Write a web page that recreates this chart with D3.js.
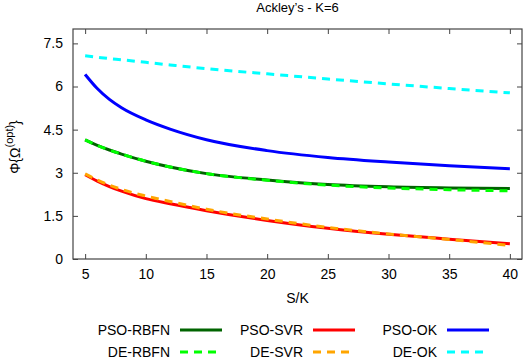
<!DOCTYPE html>
<html>
<head>
<meta charset="utf-8">
<script src="https://cdn.jsdelivr.net/npm/d3@7"></script>
<style>
  body { margin: 0; background: #fff; }
  svg text { font-family: "Liberation Sans", Arial, sans-serif; fill: #000; }
</style>
</head>
<body>
<div id="chart"></div>
<script>
// S/K sample points
const sk = [5, 6, 7, 8, 10, 12, 15, 20, 25, 30, 35, 40];

// values
const psoRbfn = [4.14, 3.95, 3.79, 3.65, 3.40, 3.20, 2.97, 2.75, 2.59, 2.51, 2.47, 2.45];
const deRbfn  = [4.14, 3.95, 3.79, 3.65, 3.40, 3.20, 2.97, 2.74, 2.57, 2.47, 2.41, 2.37];
const psoSvr  = [2.93, 2.71, 2.52, 2.36, 2.10, 1.92, 1.68, 1.34, 1.07, 0.86, 0.69, 0.53];
const deSvr   = [2.96, 2.75, 2.57, 2.42, 2.19, 2.00, 1.73, 1.39, 1.10, 0.87, 0.68, 0.47];
const psoOk   = [6.42, 5.93, 5.55, 5.26, 4.84, 4.52, 4.15, 3.77, 3.53, 3.37, 3.24, 3.14];
const deOk    = [7.07, 7.02, 6.97, 6.93, 6.84, 6.75, 6.62, 6.44, 6.26, 6.09, 5.93, 5.78];

const xTicks = [5, 10, 15, 20, 25, 30, 35, 40];
const yTicks = [0, 1.5, 3, 4.5, 6, 7.5];

// drawing order: solid PSO lines under the dashed DE lines
const series = [
  { name: "PSO-RBFN", values: psoRbfn, color: "#006400", dash: null, col: 0, row: 0 },
  { name: "PSO-SVR",  values: psoSvr,  color: "#ff0000", dash: null, col: 1, row: 0 },
  { name: "PSO-OK",   values: psoOk,   color: "#0000ff", dash: null, col: 2, row: 0 },
  { name: "DE-RBFN",  values: deRbfn,  color: "#00ff00", dash: "8,6", col: 0, row: 1 },
  { name: "DE-SVR",   values: deSvr,   color: "#ffa500", dash: "8,6", col: 1, row: 1 },
  { name: "DE-OK",    values: deOk,    color: "#00ffff", dash: "8,6", col: 2, row: 1 }
];

const W = 523, H = 360;
const margin = { top: 29, right: 1, bottom: 101, left: 73 };
const width = W - margin.left - margin.right,
  height = H - margin.top - margin.bottom;

const svg = d3.select("#chart").append("svg")
  .attr("width", W)
  .attr("height", H);

const g = svg.append("g")
  .attr("transform", "translate(" + margin.left + "," + margin.top + ")");

const x = d3.scaleLinear().domain([4, 41]).range([0, width]);
const y = d3.scaleLinear().domain([0, 8]).range([height, 0]);

const axisColor = "#444";

// axes with inward ticks, mirrored on top and right
const axBottom = g.append("g").attr("transform", "translate(0," + height + ")")
  .call(d3.axisBottom(x).tickValues(xTicks).tickSize(-5).tickPadding(10).tickFormat(d3.format("d")));
const axTop = g.append("g")
  .call(d3.axisTop(x).tickValues(xTicks).tickSize(-5).tickFormat(""));
const axLeft = g.append("g")
  .call(d3.axisLeft(y).tickValues(yTicks).tickSize(-5).tickPadding(10).tickFormat(d => d));
const axRight = g.append("g").attr("transform", "translate(" + width + ",0)")
  .call(d3.axisRight(y).tickValues(yTicks).tickSize(-5).tickFormat(""));

[axBottom, axTop, axLeft, axRight].forEach(a => {
  a.select(".domain").remove();
  a.selectAll(".tick line").attr("stroke", axisColor).attr("stroke-width", 1);
  a.selectAll(".tick text").style("font-size", "14px").attr("fill", "#000");
});

g.append("rect")
  .attr("width", width).attr("height", height)
  .attr("fill", "none").attr("stroke", axisColor).attr("stroke-width", 1.2);

// lines
const line = d3.line()
  .x((d, i) => x(sk[i]))
  .y(d => y(d))
  .curve(d3.curveMonotoneX);

g.selectAll(".series")
  .data(series)
  .join("path")
  .attr("class", "series")
  .attr("d", d => line(d.values))
  .attr("fill", "none")
  .attr("stroke", d => d.color)
  .attr("stroke-width", 3)
  .attr("stroke-dasharray", d => d.dash);

// title
svg.append("text")
  .attr("x", margin.left + width / 2).attr("y", 12)
  .attr("text-anchor", "middle")
  .style("font-size", "13px")
  .text("Ackley\u2019s - K=6");

// x label
svg.append("text")
  .attr("x", margin.left + width / 2).attr("y", 303)
  .attr("text-anchor", "middle")
  .style("font-size", "14px")
  .text("S/K");

// y label
const yl = svg.append("text")
  .attr("transform", "translate(20,147) rotate(-90)")
  .attr("text-anchor", "middle")
  .style("font-size", "14px");
yl.append("tspan").text("\u03A6{\u03A9");
yl.append("tspan").attr("dy", -7).style("font-size", "11px").text("(opt)");
yl.append("tspan").attr("dy", 7).text("}");

// legend
const colX = [170, 303, 437];
const rowY = [330, 352];
const leg = svg.append("g").selectAll("g")
  .data(series)
  .join("g")
  .attr("transform", d => "translate(" + colX[d.col] + "," + rowY[d.row] + ")");

leg.append("text")
  .attr("text-anchor", "end")
  .attr("dy", "0.35em")
  .style("font-size", "14px")
  .text(d => d.name);

leg.append("line")
  .attr("x1", 10).attr("x2", 52)
  .attr("stroke", d => d.color)
  .attr("stroke-width", 3)
  .attr("stroke-dasharray", d => d.dash);
</script>
</body>
</html>
